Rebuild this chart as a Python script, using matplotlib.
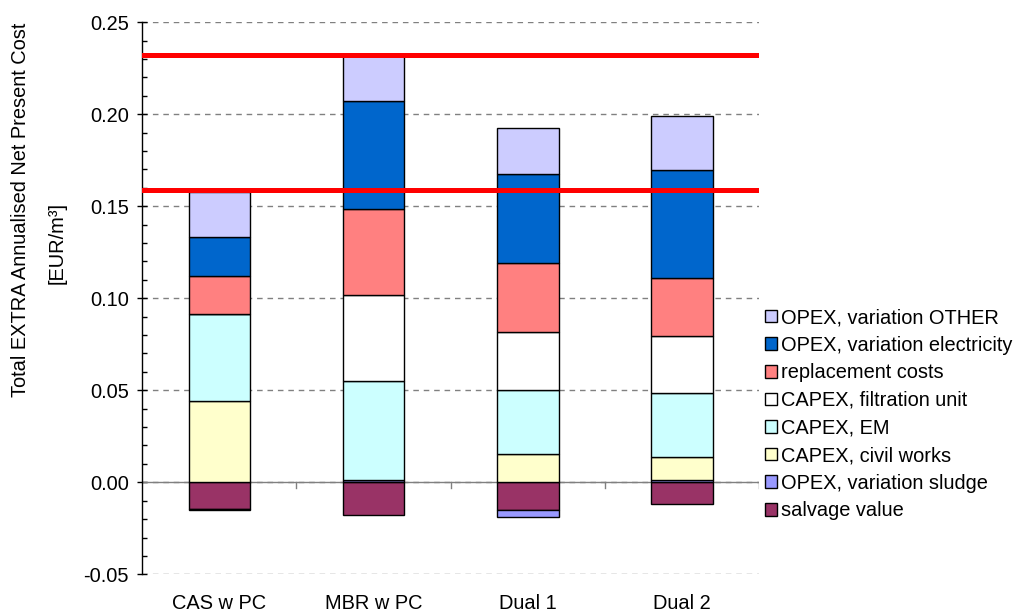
import numpy as np
import matplotlib
matplotlib.use("Agg")
import matplotlib.pyplot as plt

plt.rcParams['font.family'] = ['Liberation Sans', 'DejaVu Sans']

categories = ["CAS w PC", "MBR w PC", "Dual 1", "Dual 2"]

# stacking order (bottom -> top)
salvage_value = [-0.0143, -0.0175, -0.0150, -0.0116]
opex_sludge = [-0.0006, 0.0011, -0.0038, 0.0012]
capex_civil = [0.0441, 0.0, 0.0153, 0.0125]
capex_em = [0.0475, 0.0538, 0.0350, 0.0346]
capex_filtration = [0.0, 0.0469, 0.0312, 0.0312]
replacement = [0.0203, 0.0468, 0.0378, 0.0315]
opex_electricity = [0.0215, 0.0587, 0.0484, 0.0589]
opex_other = [0.0246, 0.0245, 0.0248, 0.0293]

reference_lines = [0.232, 0.159]

series = [
    ("salvage value", salvage_value, "#993366"),
    ("OPEX, variation sludge", opex_sludge, "#9999FF"),
    ("CAPEX, civil works", capex_civil, "#FFFFCC"),
    ("CAPEX, EM", capex_em, "#CCFFFF"),
    ("CAPEX, filtration unit", capex_filtration, "#FFFFFF"),
    ("replacement costs", replacement, "#FF8080"),
    ("OPEX, variation electricity", opex_electricity, "#0066CC"),
    ("OPEX, variation OTHER", opex_other, "#CCCCFF"),
]

fig = plt.figure(figsize=(10.2, 6.15), dpi=100)
ax = fig.add_axes([142.3 / 1020, 1 - 574.3 / 615, (759 - 142.3) / 1020, (574.3 - 22.3) / 615])

x = np.arange(len(categories))
pos = np.zeros(len(categories))
neg = np.zeros(len(categories))
handles = []
for name, vals, col in series:
    vals = np.array(vals)
    bottoms = np.where(vals >= 0, pos, neg)
    bars = ax.bar(x, vals, width=0.4, bottom=bottoms, color=col, edgecolor="black",
                  linewidth=1.0, label=name, zorder=3)
    handles.append(bars)
    pos = pos + np.where(vals >= 0, vals, 0)
    neg = neg + np.where(vals < 0, vals, 0)

for v in reference_lines:
    ax.axhline(v, color="#FF0000", linewidth=3.6, zorder=5)

ax.axhline(0, color="#808080", linewidth=1.0, zorder=2)
tick_len = 0.0033
for b in x + 0.5:
    ax.plot([b, b], [0, -tick_len], color="#808080", linewidth=1.0, zorder=2)

ax.set_xlim(-0.5, len(categories) - 0.5)
ax.set_ylim(-0.05, 0.25)
ax.set_yticks(np.arange(-0.05, 0.2501, 0.05))
ax.set_yticklabels([f"{t:.2f}" for t in np.arange(-0.05, 0.2501, 0.05)])
ax.set_yticks(np.arange(-0.05, 0.2501, 0.01), minor=True)
ax.yaxis.grid(True, which="major", linestyle=(0, (4, 3.5)), color="#808080", linewidth=1.0, zorder=0)
ax.tick_params(axis="y", which="major", direction="inout", length=7.5, width=1, labelsize=14.4, pad=6)
ax.tick_params(axis="y", which="minor", direction="in", length=3.3, width=1)
ax.set_xticks(x)
ax.set_xticklabels(categories)
ax.tick_params(axis="x", length=0, labelsize=14.4, pad=14)

for s in ["top", "right", "bottom"]:
    ax.spines[s].set_visible(False)
ax.spines["left"].set_linewidth(1.0)

fig.text(21 / 1020, 1 - 210 / 615, "Total EXTRA Annualised Net Present Cost", rotation=90,
         ha="center", va="center", fontsize=14.4)
fig.text(57 / 1020, 1 - 243 / 615, "[EUR/m³]", rotation=90, ha="center", va="center", fontsize=14.4)

leg = fig.legend(handles[::-1], [s[0] for s in series][::-1], loc="center left",
                 bbox_to_anchor=(765 / 1020, 1 - 414.2 / 615), frameon=False,
                 fontsize=14.4, handlelength=0.6, handleheight=0.6, handletextpad=0.2,
                 labelspacing=0.43, borderpad=0, borderaxespad=0)

fig.savefig("out.png", dpi=100)
